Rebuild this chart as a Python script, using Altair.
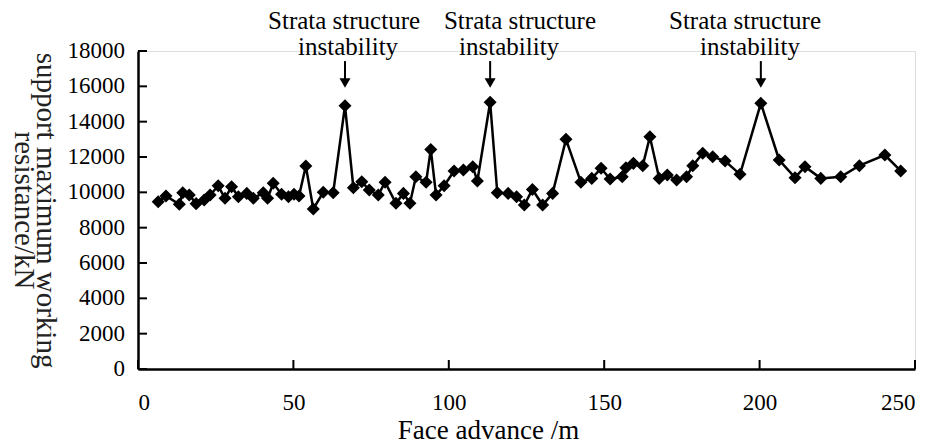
import altair as alt
import pandas as pd

# Face advance (m) and support maximum working resistance (kN)
advance = [6.5, 9.0, 13.3, 14.4, 16.5, 18.7, 21.3, 23.2, 25.8, 28.0, 30.1, 32.3, 35.0, 37.1,
           40.3, 41.7, 43.5, 46.2, 48.4, 50.2, 51.8, 54.0, 56.4, 59.6, 62.8, 66.6, 69.3, 72.0,
           74.4, 77.3, 79.5, 83.0, 85.4, 87.5, 89.4, 92.7, 94.2, 95.9, 98.5, 101.7, 104.7,
           107.7, 109.2, 113.3, 115.6, 119.1, 121.8, 124.3, 126.9, 130.2, 133.4, 137.7, 142.5,
           146.0, 149.0, 151.9, 155.8, 157.0, 159.4, 162.4, 164.7, 167.7, 170.3, 173.3, 176.5,
           178.5, 181.7, 184.9, 188.9, 193.7, 200.4, 206.3, 211.4, 214.6, 219.7, 226.1, 232.1,
           240.3, 245.4]
resistance = [9470, 9790, 9320, 9980, 9850, 9360, 9570, 9850, 10370, 9660, 10320, 9750, 9940,
              9660, 9980, 9660, 10510, 9890, 9750, 9890, 9790, 11490, 9060, 10000, 9980, 14900,
              10260, 10600, 10130, 9850, 10570, 9380, 9940, 9380, 10880, 10570, 12430, 9850,
              10370, 11210, 11260, 11450, 10640, 15100, 9980, 9940, 9750, 9280, 10160, 9280,
              9940, 13000, 10570, 10790, 11360, 10750, 10880, 11390, 11640, 11510, 13150, 10790,
              10980, 10700, 10880, 11510, 12210, 12020, 11770, 11020, 15040, 11830, 10830,
              11450, 10790, 10880, 11510, 12110, 11210]

# annotations
ann_x = [66.3, 67.6, 122.9, 119.4, 195.3, 196.9]
ann_y = [19700, 18225, 19700, 18225, 19700, 18225]
ann_text = ["Strata structure", "instability"] * 3
arrow_x = [66.6, 113.3, 200.4]
arrow_top = [17430, 17430, 17430]
arrow_bottom = [16360, 16360, 16360]
arrow_head = [16190, 16190, 16190]

x_ticks = [0, 50, 100, 150, 200, 250]
y_ticks = [0, 2000, 4000, 6000, 8000, 10000, 12000, 14000, 16000, 18000]

FONT = "Liberation Serif"
W, H = 777, 318

df = pd.DataFrame({"x": advance, "y": resistance})
ann = pd.DataFrame({"x": ann_x, "y": ann_y, "t": ann_text})
arr = pd.DataFrame({"x": arrow_x, "y": arrow_top, "y2": arrow_bottom, "yh": arrow_head})
xt = pd.DataFrame({"x": x_ticks})
yt = pd.DataFrame({"y": y_ticks, "lab": [str(v) for v in y_ticks]})

xs = alt.Scale(domain=[0, 250], nice=False, zero=False)
ys = alt.Scale(domain=[0, 18000], nice=False)

x_axis = alt.Axis(values=x_ticks, format="d", labelOverlap=False, title="Face advance /m",
                  grid=False, ticks=False,
                  domainColor="black", domainWidth=2.5, labelFont=FONT, labelFontSize=23,
                  labelColor="black", labelPadding=22, titleFont=FONT, titleFontSize=27,
                  titleFontWeight="normal", titleColor="black", titleX=350, titleY=61,
                  titleBaseline="middle", titleAlign="center")
y_axis = alt.Axis(values=y_ticks, labels=False,
                  title=["support maximum working", "resistance/kN"],
                  grid=False, ticks=False, domainColor="black", domainWidth=2.5,
                  titleFont=FONT, titleFontSize=29, titleFontWeight="normal",
                  titleColor="#222222", titleAngle=90, titleX=-93, titleY=159,
                  titleAlign="center", titleBaseline="middle", titleLineHeight=22)

line = alt.Chart(df).mark_line(color="black", strokeWidth=2.5).encode(
    x=alt.X("x:Q", scale=xs, axis=x_axis),
    y=alt.Y("y:Q", scale=ys, axis=y_axis),
)
pts = alt.Chart(df).mark_point(shape="diamond", filled=True, color="black", opacity=1,
                               size=170).encode(x=alt.X("x:Q", scale=xs),
                                                y=alt.Y("y:Q", scale=ys))

ytick = alt.Chart(yt).mark_rule(color="black", strokeWidth=2).encode(
    y=alt.Y("y:Q", scale=ys), x=alt.value(0), x2=alt.value(9))
ylab = alt.Chart(yt).mark_text(font=FONT, fontSize=23, color="black", align="right",
                               baseline="middle").encode(
    y=alt.Y("y:Q", scale=ys), x=alt.value(-13), text="lab:N")
xtick = alt.Chart(xt).mark_rule(color="black", strokeWidth=2).encode(
    x=alt.X("x:Q", scale=xs), y=alt.value(H), y2=alt.value(H - 9))

text = alt.Chart(ann).mark_text(font=FONT, fontSize=25, color="black", baseline="middle",
                                align="center").encode(
    x=alt.X("x:Q", scale=xs), y=alt.Y("y:Q", scale=ys), text="t:N")
shaft = alt.Chart(arr).mark_rule(color="black", strokeWidth=2).encode(
    x=alt.X("x:Q", scale=xs), y=alt.Y("y:Q", scale=ys), y2="y2:Q")
head = alt.Chart(arr).mark_point(shape="triangle-down", filled=True, color="black",
                                 opacity=1, size=121).encode(
    x=alt.X("x:Q", scale=xs), y=alt.Y("yh:Q", scale=ys))

chart = alt.layer(line, pts, ytick, ylab, xtick, text, shaft, head).properties(
    width=W, height=H,
    autosize=alt.AutoSizeParams(type="none"),
    padding={"left": 130, "top": 43, "right": 15, "bottom": 77},
).configure_view(stroke=None).configure(background="white")

chart.save("out.html", embed_options={"renderer": "svg", "actions": False})
